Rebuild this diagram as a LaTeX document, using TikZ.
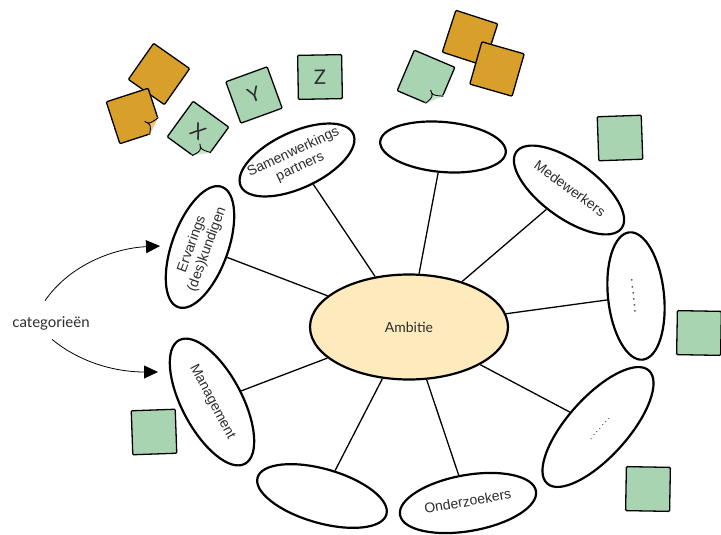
\documentclass[tikz,border=0pt]{standalone}
\usepackage{fontspec}
\setmainfont{Liberation Sans}
\newfontfamily\handfont{Lato}
\usetikzlibrary{shapes.geometric,arrows.meta,calc}
\definecolor{ambfill}{RGB}{253,234,189}
\definecolor{notegreen}{RGB}{168,212,178}
\definecolor{noteorange}{RGB}{216,160,42}
\definecolor{inkgray}{RGB}{45,45,45}
\newcommand\inl[1]{\makebox[0pt]{\begin{tabular}{@{}c@{}}#1\end{tabular}}}
\newcommand\curl[2]{%
  \fill[white, draw=white, line width=1.6pt] (#1.south east) -- ($(#1.south east)!.3!(#1.north east)$) -- ($(#1.south east)!.3!(#1.south west)$) -- cycle;
  \draw[fill=#2!60!white, line width=0.9pt, line join=round] ($(#1.south east)!.3!(#1.north east)$) .. controls ($(#1.center)!.55!(#1.south east)$) .. ($(#1.center)!.38!(#1.south east)$) .. controls ($(#1.center)!.6!(#1.south east)$) .. ($(#1.south east)!.3!(#1.south west)$);}
\tikzset{
    EL/.style ={ellipse, draw, line width=2.2pt, fill=white, inner sep=0pt, text=inkgray, font=\fontsize{14}{16}\selectfont},
    AMB/.style ={ellipse, draw, line width=2.2pt, fill=ambfill, inner sep=0pt, minimum width=198pt, minimum height=105pt, text=inkgray, font=\handfont\fontsize{14}{16}\selectfont},
    NG/.style ={rectangle, draw, line width=1.3pt, fill=notegreen, minimum size=44pt, inner sep=0pt, rounded corners=1pt, text=inkgray, font=\handfont\fontsize{20}{20}\selectfont},
    NO/.style ={rectangle, draw, line width=1.3pt, fill=noteorange, minimum size=44pt, inner sep=0pt, rounded corners=1pt},
    LN/.style ={line width=1.3pt},
    CA/.style ={-{Triangle[length=14pt,width=13pt]}, line width=0.8pt}}

\begin{document}
\begin{tikzpicture}[x=1pt,y=-1pt]
        \useasboundingbox (0,0) rectangle (721,535);
        % sticky notes
        \node[NO, rotate=-35] (o1) at (159,74) {};
        \node[NO, rotate=18] (o2) at (134,116) {};
        \curl{o2}{noteorange}
        \node[NG, rotate=-36] (g1) at (198,132) {X};
        \curl{g1}{notegreen}
        \node[NG, rotate=20] (g2) at (254,95) {Y};
        \node[NG, rotate=1] (g3) at (320,77) {Z};
        \node[NG, rotate=-23] (g4) at (426,79) {};
        \curl{g4}{notegreen}
        \node[NO, rotate=-18] (o3) at (470,38) {};
        \node[NO, rotate=-16] (o4) at (497,69) {};
        \node[NG, rotate=2] (g5) at (620,138) {};
        \node[NG, rotate=-1] (g6) at (699,333) {};
        \node[NG, rotate=-1] (g7) at (648,489) {};
        \node[NG, rotate=2] (g8) at (154,432) {};
        % mind map
        \node[AMB] (0) at (409,327) {Ambitie};
        \node[EL, minimum width=124pt, minimum height=56pt, rotate=25] (1) at (297,160) {\inl{Samenwerkings\\partners}};
        \node[EL, minimum width=126pt, minimum height=50pt, rotate=-5] (2) at (443,147) {};
        \node[EL, minimum width=130pt, minimum height=56pt, rotate=-36] (3) at (569,190) {\inl{Medewerkers}};
        \node[EL, minimum width=128pt, minimum height=56pt, rotate=-84] (4) at (636,296) {\inl{.\,.\,.\,.\,.\,.}};
        \node[EL, minimum width=152pt, minimum height=60pt, rotate=48] (5) at (598,427) {\inl{\fontsize{10}{12}\selectfont .\,.\,.\,.\,.\,.\,.}};
        \node[EL, minimum width=138pt, minimum height=56pt, rotate=10] (6) at (468,503) {\inl{Onderzoekers}};
        \node[EL, minimum width=134pt, minimum height=54pt, rotate=-16] (7) at (322,496) {};
        \node[EL, minimum width=140pt, minimum height=60pt, rotate=-62] (8) at (212,402) {\inl{Management}};
        \node[EL, minimum width=128pt, minimum height=56pt, rotate=70] (9) at (200,247) {\inl{Ervarings\\(des)kundigen}};
        \draw[LN] (0) --(1);
        \draw[LN] (0) --(2);
        \draw[LN] (0) --(3);
        \draw[LN] (0) --(4);
        \draw[LN] (0) --(5);
        \draw[LN] (0) --(6);
        \draw[LN] (0) --(7);
        \draw[LN] (0) --(8);
        \draw[LN] (0) --(9);
        % categorieen
        \node[text=inkgray, font=\handfont\fontsize{15}{17}\selectfont] (cat) at (51,323) {categorieën};
        \coordinate (a1) at (160,246);
        \coordinate (a2) at (158,372);
        \draw[CA] ([shift={(-6,-12)}]cat.north) .. controls (72,262) and (118,248) .. (a1);
        \draw[CA] ([shift={(1,6)}]cat.south) .. controls (82,364) and (118,372) .. (a2);
    \end{tikzpicture}
\end{document}
